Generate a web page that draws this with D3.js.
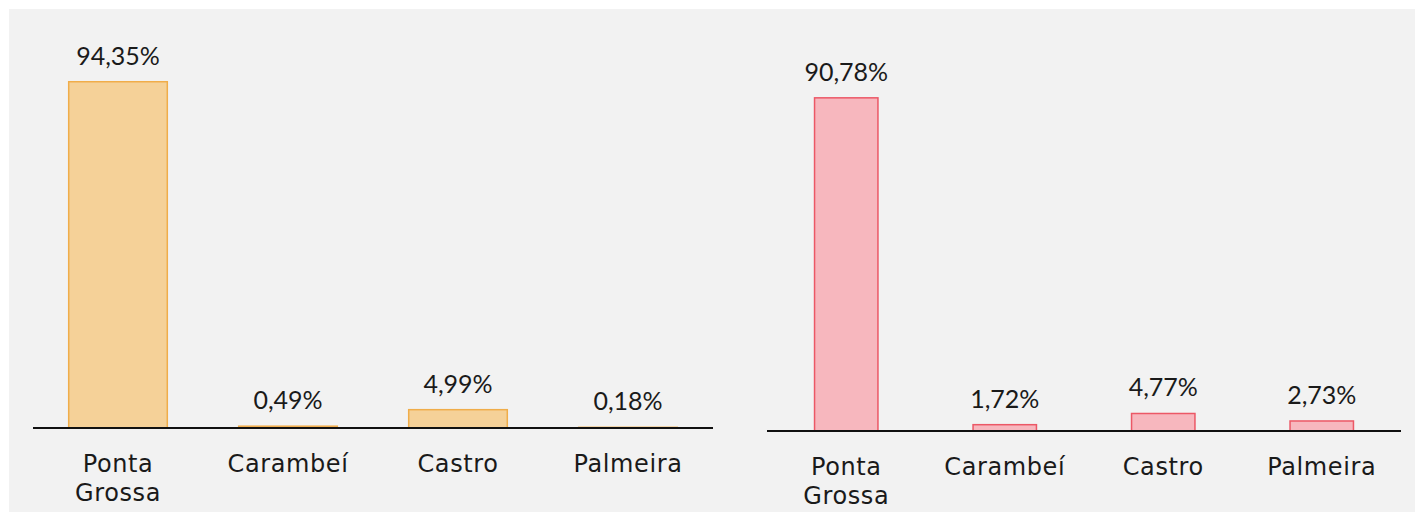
<!DOCTYPE html>
<html><head><meta charset="utf-8">
<script src="https://cdn.jsdelivr.net/npm/d3@7"></script>
<style>
html,body{margin:0;padding:0;background:#fff;}
svg{display:block;}
text{fill:#1a1a1a;}
.val{font-family:"Lato","Open Sans",sans-serif;}
.cat{font-family:"DejaVu Sans",sans-serif;}
</style></head>
<body>
<svg id="c" width="1415" height="512"></svg>
<script>
const categories = ["Ponta Grossa","Carambeí","Castro","Palmeira"];
const valuesLeft = [94.35, 0.49, 4.99, 0.18];
const valuesRight = [90.78, 1.72, 4.77, 2.73];
const labelsLeft = ["94,35%","0,49%","4,99%","0,18%"];
const labelsRight = ["90,78%","1,72%","4,77%","2,73%"];

const svg = d3.select("#c");
svg.append("rect").attr("x",9).attr("y",9).attr("width",1406).attr("height",503).attr("fill","#f2f2f2");

function panel(cfg){
  const x = d3.scaleBand().domain(categories).range([cfg.x0,cfg.x1]).paddingInner(cfg.pad).paddingOuter(cfg.pad/2);
  const y = d3.scaleLinear().domain([0,100]).range([cfg.base, cfg.base-367]);
  const g = svg.append("g");
  g.selectAll("rect.bar").data(cfg.values).join("rect").attr("class","bar")
    .attr("x",(d,i)=>x(categories[i])).attr("width",x.bandwidth())
    .attr("y",d=>y(d)).attr("height",d=>y(0)-y(d))
    .attr("fill",cfg.fill).attr("stroke",cfg.stroke).attr("stroke-width",1.5);
  g.selectAll("text.val").data(cfg.values).join("text").attr("class","val")
    .attr("x",(d,i)=>x(categories[i])+x.bandwidth()/2).attr("y",d=>y(d)-17)
    .attr("text-anchor","middle").attr("font-size",25).text((d,i)=>cfg.labels[i]);
  const axis = d3.axisBottom(x).tickSize(0).tickPadding(0);
  const ag = g.append("g").attr("transform",`translate(0,${cfg.base})`).call(axis);
  ag.select(".domain").attr("stroke","#111").attr("stroke-width",2).attr("d",`M${cfg.x0},0H${cfg.x1}`);
  ag.selectAll(".tick text").remove();
  ag.selectAll(".tick").each(function(d){
    const t = d3.select(this).append("text").attr("class","cat").attr("text-anchor","middle")
      .attr("font-size",24).attr("letter-spacing",0.6).attr("fill","#1a1a1a");
    const words = d.split(" ");
    if (d === "Ponta Grossa") {
      words.forEach((w,i)=>t.append("tspan").attr("x",0).attr("y",44+i*29).text(w));
    } else {
      t.attr("y",44).text(d);
    }
  });
}
panel({x0:33,x1:713,base:428,pad:0.42,values:valuesLeft,labels:labelsLeft,fill:"#f5d198",stroke:"#f0ad4a"});
panel({x0:767,x1:1401,base:431,pad:0.6,values:valuesRight,labels:labelsRight,fill:"#f7b7be",stroke:"#ec5866"});
</script>
</body></html>
